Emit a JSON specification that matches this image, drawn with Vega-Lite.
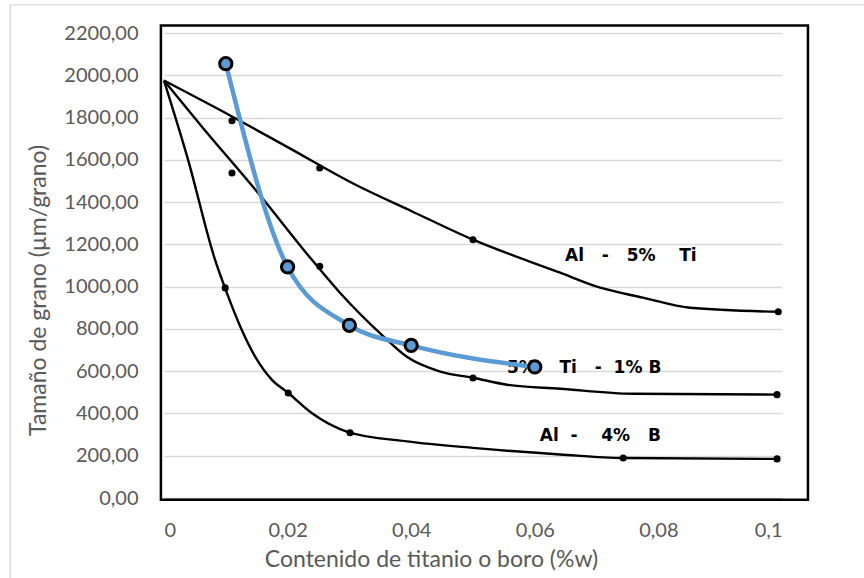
{
  "$schema": "https://vega.github.io/schema/vega-lite/v6.json",
  "width": 618,
  "height": 465,
  "autosize": {"type": "none"},
  "padding": {"left": 164, "top": 33, "right": 82, "bottom": 80},
  "background": "white",
  "config": {
    "view": {"stroke": null},
    "locale": {"number": {"decimal": ",", "thousands": ".", "grouping": [3], "currency": ["", " €"]}},
    "axis": {
      "labelFont": "Lato", "labelFontSize": 20, "labelColor": "#595959",
      "titleFont": "Lato", "titleFontSize": 23, "titleFontWeight": "normal", "titleColor": "#595959",
      "ticks": false, "gridColor": "#d9d9d9", "gridWidth": 1.3
    }
  },
  "datasets": {
    "curves": [
      {"series": "Al-5%Ti", "x": 0, "y": 1975},
      {"series": "Al-5%Ti", "x": 0.011, "y": 1805},
      {"series": "Al-5%Ti", "x": 0.02, "y": 1660},
      {"series": "Al-5%Ti", "x": 0.031, "y": 1482},
      {"series": "Al-5%Ti", "x": 0.04, "y": 1358},
      {"series": "Al-5%Ti", "x": 0.05, "y": 1222},
      {"series": "Al-5%Ti", "x": 0.0641, "y": 1066},
      {"series": "Al-5%Ti", "x": 0.0706, "y": 995},
      {"series": "Al-5%Ti", "x": 0.0775, "y": 948},
      {"series": "Al-5%Ti", "x": 0.0851, "y": 900},
      {"series": "Al-5%Ti", "x": 0.0994, "y": 881},
      {"series": "Al-5%Ti-1%B", "x": 0, "y": 1975},
      {"series": "Al-5%Ti-1%B", "x": 0.0061, "y": 1758},
      {"series": "Al-5%Ti-1%B", "x": 0.0152, "y": 1444},
      {"series": "Al-5%Ti-1%B", "x": 0.0239, "y": 1128},
      {"series": "Al-5%Ti-1%B", "x": 0.0285, "y": 970},
      {"series": "Al-5%Ti-1%B", "x": 0.0355, "y": 765},
      {"series": "Al-5%Ti-1%B", "x": 0.0393, "y": 668},
      {"series": "Al-5%Ti-1%B", "x": 0.0447, "y": 598},
      {"series": "Al-5%Ti-1%B", "x": 0.05, "y": 569},
      {"series": "Al-5%Ti-1%B", "x": 0.0555, "y": 536},
      {"series": "Al-5%Ti-1%B", "x": 0.0641, "y": 517},
      {"series": "Al-5%Ti-1%B", "x": 0.0759, "y": 493},
      {"series": "Al-5%Ti-1%B", "x": 0.0994, "y": 489},
      {"series": "Al-4%B", "x": 0, "y": 1975},
      {"series": "Al-4%B", "x": 0.0039, "y": 1600},
      {"series": "Al-4%B", "x": 0.00825, "y": 1128},
      {"series": "Al-4%B", "x": 0.00987, "y": 994},
      {"series": "Al-4%B", "x": 0.01257, "y": 796},
      {"series": "Al-4%B", "x": 0.01472, "y": 670},
      {"series": "Al-4%B", "x": 0.01743, "y": 560},
      {"series": "Al-4%B", "x": 0.02011, "y": 497},
      {"series": "Al-4%B", "x": 0.0239, "y": 402},
      {"series": "Al-4%B", "x": 0.0298, "y": 312},
      {"series": "Al-4%B", "x": 0.0393, "y": 268},
      {"series": "Al-4%B", "x": 0.05, "y": 237},
      {"series": "Al-4%B", "x": 0.0641, "y": 206},
      {"series": "Al-4%B", "x": 0.0743, "y": 189},
      {"series": "Al-4%B", "x": 0.0991, "y": 185}
    ],
    "dots": [
      {"series": "Al-5%Ti", "x": 0.011, "y": 1785},
      {"series": "Al-5%Ti", "x": 0.0252, "y": 1561},
      {"series": "Al-5%Ti", "x": 0.05, "y": 1222},
      {"series": "Al-5%Ti", "x": 0.0994, "y": 881},
      {"series": "Al-5%Ti-1%B", "x": 0.011, "y": 1538},
      {"series": "Al-5%Ti-1%B", "x": 0.0252, "y": 1096},
      {"series": "Al-5%Ti-1%B", "x": 0.05, "y": 568},
      {"series": "Al-5%Ti-1%B", "x": 0.0992, "y": 489},
      {"series": "Al-4%B", "x": 0.0099, "y": 994},
      {"series": "Al-4%B", "x": 0.0201, "y": 497},
      {"series": "Al-4%B", "x": 0.0301, "y": 309},
      {"series": "Al-4%B", "x": 0.0743, "y": 189},
      {"series": "Al-4%B", "x": 0.0992, "y": 185}
    ],
    "labels": [
      {"label": "Al\u00a0\u00a0\u00a0-\u00a0\u00a0\u00a05%\u00a0\u00a0\u00a0\u00a0Ti", "x": 0.0649, "y": 1146},
      {"label": "5%\u00a0\u00a0\u00a0\u00a0Ti\u00a0\u00a0\u00a0-\u00a0\u00a01%\u00a0B", "x": 0.0555, "y": 614},
      {"label": "Al\u00a0\u00a0-\u00a0\u00a0\u00a0\u00a04%\u00a0\u00a0\u00a0B", "x": 0.0608, "y": 292}
    ],
    "blue": [
      {"x": 0.01, "y": 2055},
      {"x": 0.02, "y": 1093},
      {"x": 0.03, "y": 817},
      {"x": 0.04, "y": 722},
      {"x": 0.06, "y": 620}
    ]
  },
  "layer": [
    {
      "data": {"values": [{"k": 1}]},
      "mark": {"type": "rect", "filled": false, "stroke": "#d9d9d9", "strokeWidth": 1.3},
      "encoding": {
        "x": {"datum": -0.0249, "type": "quantitative", "scale": {"domain": [0, 0.1], "nice": false, "zero": false}},
        "x2": {"datum": 0.2},
        "y": {"datum": 2333, "type": "quantitative", "scale": {"domain": [0, 2200], "nice": false}},
        "y2": {"datum": -1000}
      }
    },
    {
      "data": {"values": [{"k": 1}]},
      "mark": {"type": "rect", "filled": false, "stroke": "black", "strokeWidth": 2.5},
      "encoding": {
        "x": {"datum": -0.0005, "type": "quantitative", "scale": {"domain": [0, 0.1], "nice": false, "zero": false}},
        "x2": {"datum": 0.1042},
        "y": {"datum": 2235, "type": "quantitative", "scale": {"domain": [0, 2200], "nice": false}},
        "y2": {"datum": -8}
      }
    },
    {
      "encoding": {
        "x": {"field": "x", "type": "quantitative", "scale": {"domain": [0, 0.1], "nice": false, "zero": false},
          "axis": {"values": [0, 0.02, 0.04, 0.06, 0.08, 0.1], "format": ".2~f", "grid": false, "domain": true, "domainColor": "#bfbfbf",
            "labelPadding": 22, "title": "Contenido de titanio o boro (%w)", "titlePadding": 8, "titleX": 267}},
        "y": {"field": "y", "type": "quantitative", "scale": {"domain": [0, 2200], "nice": false},
          "axis": {"values": [0, 200, 400, 600, 800, 1000, 1200, 1400, 1600, 1800, 2000, 2200], "format": ".2f", "grid": true, "domain": false,
            "labelPadding": 26, "title": "Tamaño de grano (µm/grano)", "titlePadding": 13, "titleY": 257}}
      },
      "layer": [
        {
          "data": {"name": "curves"},
          "mark": {"type": "line", "color": "black", "strokeWidth": 2.4, "interpolate": "monotone"},
          "encoding": {"detail": {"field": "series"}}
        },
        {
          "data": {"name": "dots"},
          "mark": {"type": "point", "filled": true, "color": "black", "size": 50, "opacity": 1}
        },
        {
          "data": {"name": "labels"},
          "mark": {"type": "text", "font": "DejaVu Sans", "fontWeight": "bold", "fontSize": 17, "color": "black", "align": "left", "baseline": "middle"},
          "encoding": {"text": {"field": "label"}}
        },
        {
          "data": {"name": "blue"},
          "mark": {"type": "line", "color": "#5B9BD5", "strokeWidth": 4.5, "interpolate": "monotone"}
        },
        {
          "data": {"name": "blue"},
          "mark": {"type": "point", "filled": true, "fill": "#5B9BD5", "stroke": "black", "strokeWidth": 3, "size": 150, "opacity": 1}
        }
      ]
    }
  ]
}
